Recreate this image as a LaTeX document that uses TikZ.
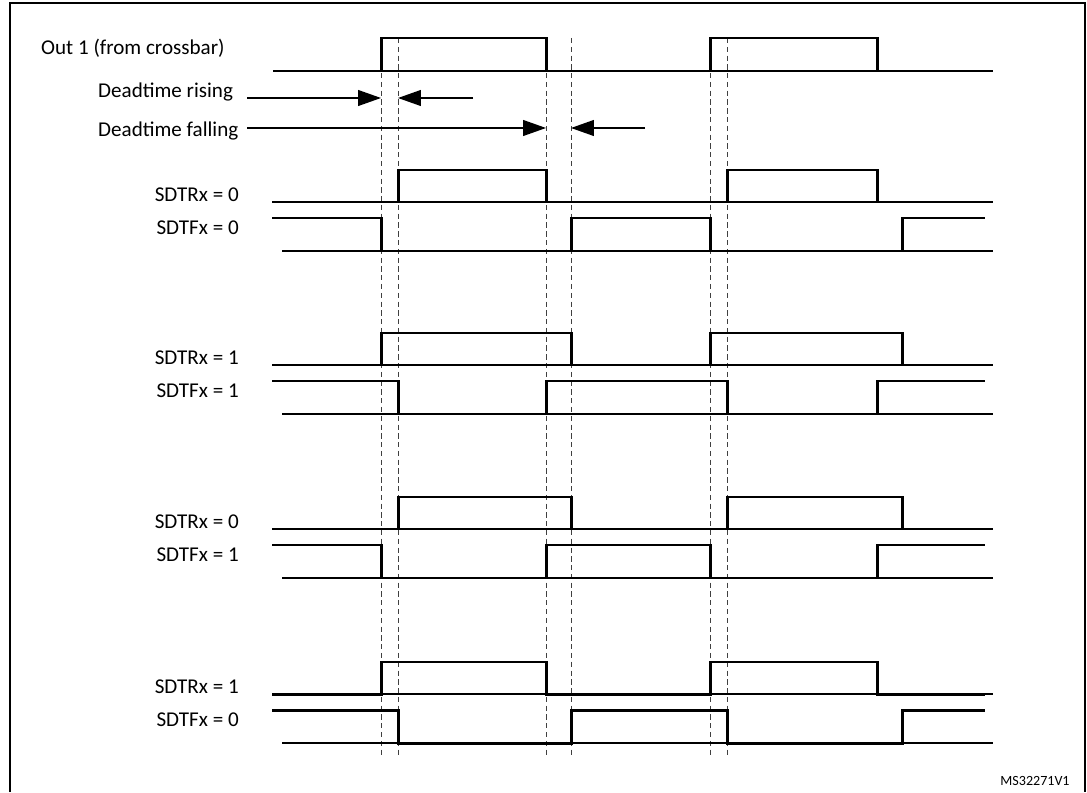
\documentclass[tikz,border=0pt]{standalone}
\usepackage{fontspec}
\setmainfont{Carlito}
\usetikzlibrary{arrows.meta}
\tikzset{
    signal/.style={line width=1.7pt,line join=miter},
    baseline/.style={line width=.8pt},
    guide/.style={densely dashed,line width=.5pt,black!75},
    arr/.style={->,>={Triangle[length=13pt,width=9pt]},line width=.8pt},
    frame/.style={line width=1.2pt},
}
\tikzstyle{every node}=[font=\fontsize{12}{14}\selectfont]

\begin{document}
\begin{tikzpicture}[x=0.02cm,y=-0.02cm]
    \useasboundingbox (0,0) rectangle (1087,793);
    \draw[frame] (10,792) -- (10,3) -- (1085,3) -- (1085,792);

    % dead time guides
    \foreach \gx in {381,398,546,571,710,727}
        \draw[guide] (\gx,38) -- (\gx,758);

    % crossbar output
    \node[anchor=west] (out) at (35,48) {Out 1 (from crossbar)};
    \draw[baseline] (273,71) -- (993,71);
    \draw[signal] (273,71) -- (381,71) -- (381,38) -- (546,38) -- (546,71)
        -- (710,71) -- (710,38) -- (877,38) -- (877,71) -- (985,71);

    % dead time markers
    \node[anchor=west] (dtr) at (92,92) {Deadtime rising};
    \node[anchor=west] (dtf) at (92,131) {Deadtime falling};
    \coordinate (dtr a) at (247,98);  \coordinate (dtr b) at (381,98);
    \coordinate (dtr c) at (473,98);  \coordinate (dtr d) at (398,98);
    \coordinate (dtf a) at (247,128); \coordinate (dtf b) at (546,128);
    \coordinate (dtf c) at (645,128); \coordinate (dtf d) at (571,128);
    \draw[arr] (dtr a) -- (dtr b);
    \draw[arr] (dtr c) -- (dtr d);
    \draw[arr] (dtf a) -- (dtf b);
    \draw[arr] (dtf c) -- (dtf d);

    % outputs: y, SDTR, SDTF, R edges, F edges
    \foreach \y/\r/\f/\ra/\rb/\rc/\rd/\fa/\fb/\fc/\fd [count=\k] in {
        170/0/0/398/546/727/877/381/571/710/902,
        333/1/1/381/571/710/902/398/546/727/877,
        497/0/1/398/571/727/902/381/546/710/877,
        662/1/0/381/546/710/877/398/571/727/902} {
        \node[anchor=east] (sdtr\k) at (245,\y+25) {SDTRx = \r};
        \node[anchor=east] (sdtf\k) at (245,\y+58) {SDTFx = \f};
        \draw[baseline] (272,\y+32) -- (993,\y+32);
        \draw[signal] (272,\y+32) -- (\ra,\y+32) -- (\ra,\y) -- (\rb,\y) -- (\rb,\y+32)
            -- (\rc,\y+32) -- (\rc,\y) -- (\rd,\y) -- (\rd,\y+32) -- (985,\y+32);
        \draw[baseline] (282,\y+81) -- (993,\y+81);
        \draw[signal] (272,\y+48) -- (\fa,\y+48) -- (\fa,\y+81) -- (\fb,\y+81) -- (\fb,\y+48)
            -- (\fc,\y+48) -- (\fc,\y+81) -- (\fd,\y+81) -- (\fd,\y+48) -- (985,\y+48);
    }

    \node[font=\fontsize{8}{10}\selectfont] (ref) at (1035,781) {MS32271V1};
\end{tikzpicture}
\end{document}
